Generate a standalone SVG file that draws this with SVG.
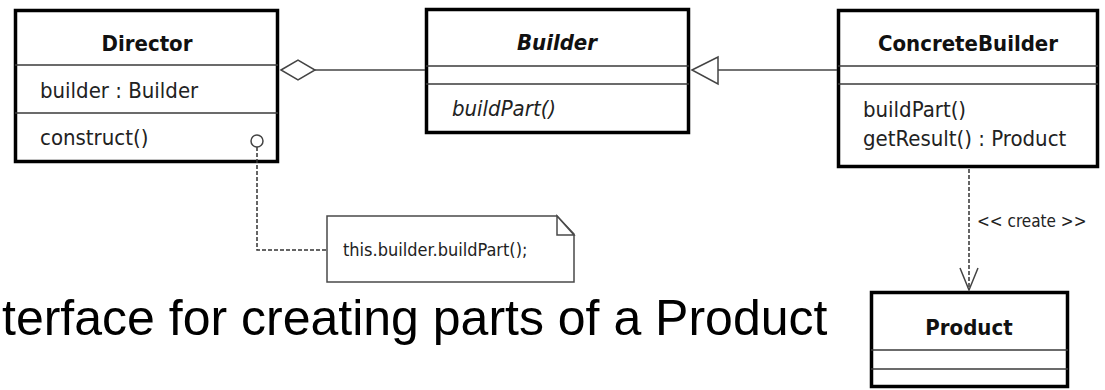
<svg xmlns="http://www.w3.org/2000/svg" width="1105" height="390" viewBox="0 0 1105 390">
  <defs>
    <style>
      .box { fill: #ffffff; stroke: #000000; stroke-width: 3.5; }
      .sep { stroke: #3a3a3a; stroke-width: 1.5; }
      .title { font-family: "DejaVu Sans Condensed", "DejaVu Sans", sans-serif; font-size: 22px; font-weight: bold; fill: #111111; text-anchor: middle; }
      .member { font-family: "DejaVu Sans Condensed", "DejaVu Sans", sans-serif; font-size: 22px; fill: #222222; }
      .note { fill: #ffffff; stroke: #4a4a4a; stroke-width: 1.5; }
      .notetext { font-family: "DejaVu Sans Condensed", "DejaVu Sans", sans-serif; font-size: 18px; fill: #222222; }
      .line { fill: none; stroke: #444444; stroke-width: 1.5; }
      .dash { fill: none; stroke: #333333; stroke-width: 1.5; stroke-dasharray: 4 2; }
      .label { font-family: "DejaVu Sans Condensed", "DejaVu Sans", sans-serif; font-size: 17px; fill: #222222; }
      .caption { font-family: "Liberation Sans", Arial, sans-serif; font-size: 50px; fill: #000000; }
    </style>
  </defs>

  <!-- Director -->
  <g id="director">
    <rect class="box" x="15.5" y="10.5" width="262" height="151"/>
    <line class="sep" x1="15" y1="65" x2="278" y2="65"/>
    <line class="sep" x1="15" y1="113" x2="278" y2="113"/>
    <text class="title" x="147" y="51">Director</text>
    <text class="member" x="40" y="98">builder : Builder</text>
    <text class="member" x="40" y="145">construct()</text>
  </g>

  <!-- Builder (abstract) -->
  <g id="builder">
    <rect class="box" x="426.5" y="9.5" width="262" height="123"/>
    <line class="sep" x1="426" y1="66" x2="689" y2="66"/>
    <line class="sep" x1="426" y1="84" x2="689" y2="84"/>
    <text class="title" x="557" y="50" font-style="italic">Builder</text>
    <text class="member" x="452" y="116" font-style="italic">buildPart()</text>
  </g>

  <!-- ConcreteBuilder -->
  <g id="concrete-builder">
    <rect class="box" x="838.5" y="10.5" width="259" height="156"/>
    <line class="sep" x1="838" y1="66" x2="1098" y2="66"/>
    <line class="sep" x1="838" y1="84" x2="1098" y2="84"/>
    <text class="title" x="968" y="51">ConcreteBuilder</text>
    <text class="member" x="863" y="117">buildPart()</text>
    <text class="member" x="863" y="146">getResult() : Product</text>
  </g>

  <!-- Product -->
  <g id="product">
    <rect class="box" x="871.5" y="292.5" width="196" height="94"/>
    <line class="sep" x1="871" y1="350" x2="1068" y2="350"/>
    <line class="sep" x1="871" y1="369" x2="1068" y2="369"/>
    <text class="title" x="969" y="335">Product</text>
  </g>

  <!-- Note -->
  <g id="note">
    <polygon class="note" points="327,216 557,216 574,234 574,282 327,282"/>
    <polygon class="note" points="557,216 557,235 574,235"/>
    <text class="notetext" x="343" y="256">this.builder.buildPart();</text>
  </g>

  <!-- connectors -->
  <g id="connectors">
    <!-- aggregation Director <>— Builder -->
    <line class="line" x1="315" y1="70" x2="425" y2="70"/>
    <polygon class="line" style="fill:#ffffff" points="281,70 298,60 315,70 298,80"/>
    <!-- generalization ConcreteBuilder —|> Builder -->
    <line class="line" x1="718" y1="70" x2="837" y2="70"/>
    <polygon class="line" style="fill:#ffffff" points="692,70 718,57 718,84"/>
    <!-- note anchor from construct() -->
    <path class="dash" d="M257,147 V250 H326"/>
    <circle class="line" style="fill:#ffffff" cx="257" cy="141" r="6"/>
    <!-- create dependency -->
    <line class="dash" x1="969" y1="169" x2="969" y2="289"/>
    <polyline class="line" points="960,268 969,290 978,268"/>
    <text class="label" x="977" y="227">&lt;&lt; create &gt;&gt;</text>
  </g>

  <!-- caption -->
  <g id="caption">
    <text class="caption" x="2" y="335">terface for creating parts of a Product</text>
  </g>
</svg>
